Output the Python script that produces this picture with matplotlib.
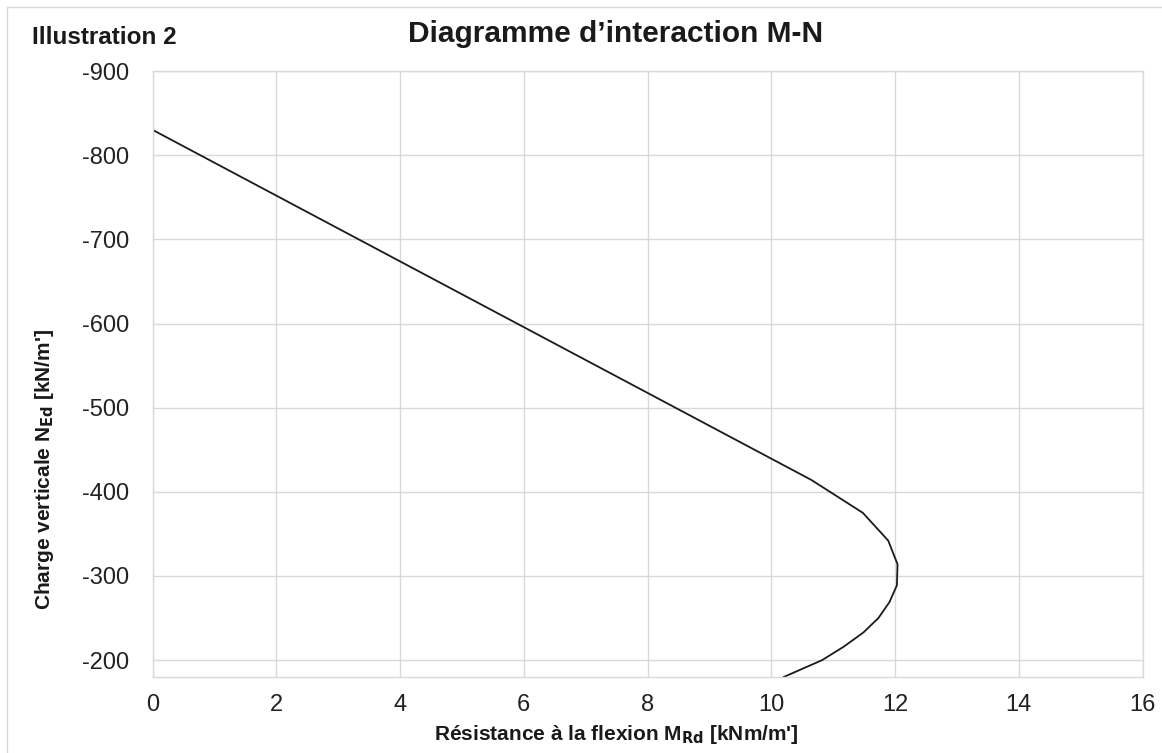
import matplotlib
matplotlib.use("Agg")
import matplotlib.pyplot as plt
from matplotlib.lines import Line2D

plt.rcParams['font.family'] = ['Liberation Sans', 'DejaVu Sans']
plt.rcParams['axes.unicode_minus'] = False
plt.rcParams['mathtext.default'] = 'regular'

# Data
moment_kNm = [0.0, 10.65, 11.48, 11.89, 12.04, 12.03, 11.91, 11.73, 11.49, 11.17, 10.82, 10.20]
force_kN = [-830, -414, -375, -342, -314, -289, -269, -250, -233, -216, -200, -180]

x_ticks = [0, 2, 4, 6, 8, 10, 12, 14, 16]
y_ticks = [-900, -800, -700, -600, -500, -400, -300, -200]

title = "Diagramme d\u2019interaction M-N"
corner_label = "Illustration 2"
x_label = r"Résistance à la flexion M$_{\mathbf{Rd}}$ [kNm/m']"
y_label = r"Charge verticale N$_{\mathbf{Ed}}$ [kN/m']"

W, H = 1162, 753
fig = plt.figure(figsize=(W / 100, H / 100), dpi=100)
fig.patch.set_facecolor('white')

ax = fig.add_axes([152.7 / W, 1 - 677 / H, (1142.5 - 152.7) / W, (677 - 71) / H])
ax.plot(moment_kNm, force_kN, color='#1a1a1a', lw=1.3, solid_joinstyle='miter', clip_on=True)

ax.set_xlim(0, 16)
ax.set_ylim(-180, -900)
ax.set_xticks(x_ticks)
ax.set_yticks(y_ticks)
ax.set_xticklabels([str(v) for v in x_ticks])
ax.set_yticklabels([str(v) for v in y_ticks])
ax.grid(True, color='#d9d9d9', lw=1.0)
ax.set_axisbelow(True)
for s in ax.spines.values():
    s.set_color('#d9d9d9')
    s.set_linewidth(1.0)
ax.tick_params(length=0, labelsize=17, labelcolor='#222222')
ax.tick_params(axis='x', pad=12.5)
ax.tick_params(axis='y', pad=17)

fig.text(616 / W, 1 - 42.5 / H, title, ha='center', va='baseline',
         fontsize=21.5, fontweight='bold', color='#1a1a1a')
fig.text(31.5 / W, 1 - 44 / H, corner_label, ha='left', va='baseline',
         fontsize=17.5, fontweight='bold', color='#1a1a1a')
fig.text(616 / W, 1 - 740 / H, x_label, ha='center', va='baseline',
         fontsize=15, fontweight='bold', color='#1a1a1a')
fig.text(45 / W, 1 - 469 / H, y_label, ha='center', va='center', rotation=90,
         fontsize=15, fontweight='bold', color='#1a1a1a')

# partial outer frame (top and left)
fig.add_artist(Line2D([7 / W, 1], [1 - 7 / H, 1 - 7 / H], color='#d9d9d9', lw=1.0,
                      transform=fig.transFigure))
fig.add_artist(Line2D([7 / W, 7 / W], [1 - 7 / H, 0], color='#d9d9d9', lw=1.0,
                      transform=fig.transFigure))

fig.savefig('out.png', dpi=100)
